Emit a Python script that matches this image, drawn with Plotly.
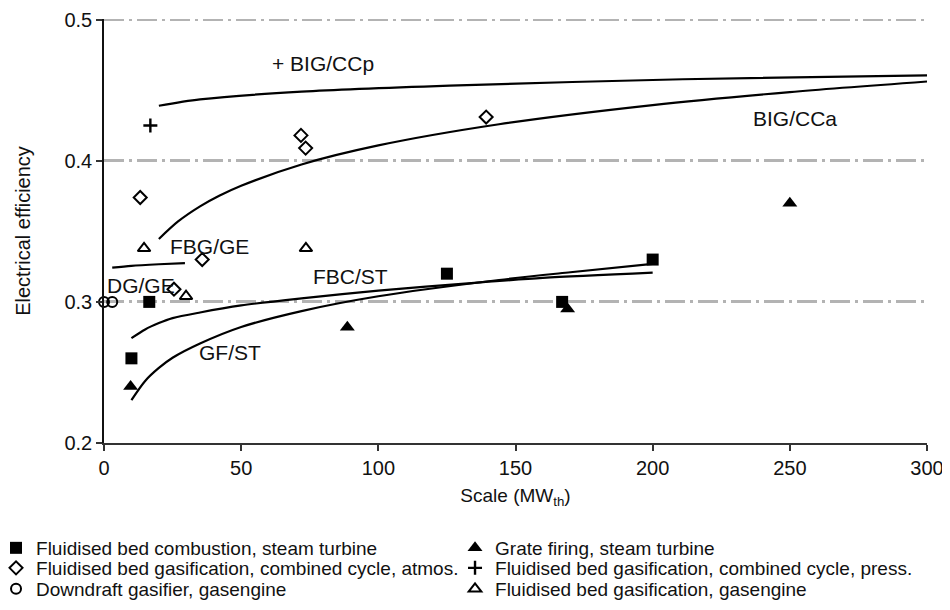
import plotly.graph_objects as go

# ---- data ----
fbc_x = [10, 16.5, 125, 167, 200]
fbc_y = [0.26, 0.30, 0.32, 0.30, 0.33]

gf_x = [9.7, 88.7, 169, 250]
gf_y = [0.24, 0.282, 0.295, 0.37]

fbgcca_x = [13.2, 25.5, 35.8, 71.8, 73.5, 139.3]
fbgcca_y = [0.374, 0.309, 0.33, 0.418, 0.409, 0.431]

fbgccp_x = [16.9]
fbgccp_y = [0.425]

dg_x = [0, 3]
dg_y = [0.30, 0.30]

fbgge_x = [14.6, 29.9, 73.6]
fbgge_y = [0.338, 0.304, 0.338]

# fitted trend curves
curve_ccp_x = [20, 35, 72, 126, 211, 300]
curve_ccp_y = [0.439, 0.4435, 0.449, 0.4533, 0.4578, 0.4606]

curve_cca_x = [20, 27, 35, 42, 50, 72, 100, 144, 200, 250, 300]
curve_cca_y = [0.3446, 0.357, 0.3677, 0.3752, 0.3823, 0.3974, 0.4109, 0.4259, 0.4395, 0.4487, 0.4562]

curve_fbgge_x = [3, 10, 20, 29.5]
curve_fbgge_y = [0.3243, 0.3256, 0.3267, 0.3275]

curve_fbc_x = [10, 15, 20, 25, 35, 50, 72, 100, 135, 160, 200]
curve_fbc_y = [0.2743, 0.2805, 0.285, 0.2885, 0.2925, 0.2975, 0.3025, 0.308, 0.3135, 0.317, 0.3207]

curve_gf_x = [10, 15, 20, 25, 35, 50, 72, 100, 144, 170, 200]
curve_gf_y = [0.2304, 0.244, 0.2532, 0.2604, 0.2705, 0.2822, 0.2935, 0.304, 0.3155, 0.321, 0.327]

label_text = ["+ BIG/CCp", "BIG/CCa", "FBG/GE", "DG/GE", "FBC/ST", "GF/ST"]
label_x = [80, 252, 38.3, 13.4, 90, 46]
label_y = [0.469, 0.4297, 0.3396, 0.3113, 0.3177, 0.264]

legend_names = [
    "Fluidised bed combustion, steam turbine",
    "Grate firing, steam turbine",
    "Fluidised bed gasification, combined cycle, atmos.",
    "Fluidised bed gasification, combined cycle, press.",
    "Downdraft gasifier, gasengine",
    "Fluidised bed gasification, gasengine",
]

x_ticks = [0, 50, 100, 150, 200, 250, 300]
y_ticks = [0.2, 0.3, 0.4, 0.5]

# ---- figure ----
fig = go.Figure()

grid_line = dict(color="#b3b3b3", width=2.5, dash="20px,5px,3px,5px")
# top gridline (plotly drops the grid line that sits on the range edge)
fig.add_hline(y=y_ticks[-1], line=grid_line, layer="below")

for cx, cy in [(curve_ccp_x, curve_ccp_y), (curve_cca_x, curve_cca_y),
               (curve_fbgge_x, curve_fbgge_y), (curve_fbc_x, curve_fbc_y),
               (curve_gf_x, curve_gf_y)]:
    fig.add_trace(go.Scatter(x=cx, y=cy, mode="lines", showlegend=False,
                             line=dict(color="black", width=2.2, shape="spline", smoothing=0.8),
                             hoverinfo="skip"))

series = [
    (fbc_x, fbc_y, legend_names[0], dict(symbol="square", size=12, color="black"), "legend"),
    (gf_x, gf_y, legend_names[1], dict(symbol="triangle-up", size=13, color="black"), "legend"),
    (fbgcca_x, fbgcca_y, legend_names[2], dict(symbol="diamond-open", size=10, color="black", line=dict(width=2, color="black")), "legend2"),
    (fbgccp_x, fbgccp_y, legend_names[3], dict(symbol="cross-thin", size=10, color="black", line=dict(width=2.4, color="black")), "legend2"),
    (dg_x, dg_y, legend_names[4], dict(symbol="circle-open", size=10, color="black", line=dict(width=2, color="black")), "legend3"),
    (fbgge_x, fbgge_y, legend_names[5], dict(symbol="triangle-up-open", size=11, color="black", line=dict(width=2, color="black")), "legend3"),
]
for sx, sy, name, mk, lg in series:
    fig.add_trace(go.Scatter(x=sx, y=sy, mode="markers", name=name, marker=mk,
                             legend=lg, cliponaxis=False))

for t, lx, ly in zip(label_text, label_x, label_y):
    fig.add_annotation(x=lx, y=ly, text=t, showarrow=False,
                       font=dict(family="Liberation Sans, Arial", size=21, color="#111"))

legend_common = dict(orientation="h", x=-0.1312, xanchor="left", yanchor="middle",
                     entrywidth=414, entrywidthmode="pixels", itemwidth=30,
                     font=dict(family="Liberation Sans, Arial", size=19, color="#111"),
                     tracegroupgap=0, bgcolor="rgba(0,0,0,0)")

# page body adds an 8px margin; the figure is sized so the plot sits where the reference's does
fig.update_layout(
    width=942, height=602,
    margin=dict(l=96, r=23, t=11, b=167, autoexpand=False),
    paper_bgcolor="white", plot_bgcolor="white",
    font=dict(family="Liberation Sans, Arial", size=20, color="#111"),
    xaxis=dict(range=[0, 300], tickvals=x_ticks, showgrid=False, zeroline=False,
               showline=True, linecolor="#333", linewidth=1.5,
               ticks="outside", ticklen=6, tickcolor="#333", tickwidth=1.5,
               title=dict(text="Scale (MW<sub>th</sub>)", standoff=11,
                          font=dict(size=19))),
    yaxis=dict(range=[0.2, 0.5005], tickvals=y_ticks, tickformat=".1f",
               showgrid=True, zeroline=False, gridcolor=grid_line["color"],
               gridwidth=grid_line["width"], griddash=grid_line["dash"],
               showline=True, linecolor="#111", linewidth=1.5,
               ticks="outside", ticklen=6, tickcolor="#333", tickwidth=1.5,
               title=dict(text="Electrical efficiency", standoff=28,
                          font=dict(size=20))),
    legend=dict(y=-0.2476, **legend_common),
    legend2=dict(y=-0.2948, **legend_common),
    legend3=dict(y=-0.3443, **legend_common),
)

fig.write_html("out.html")
